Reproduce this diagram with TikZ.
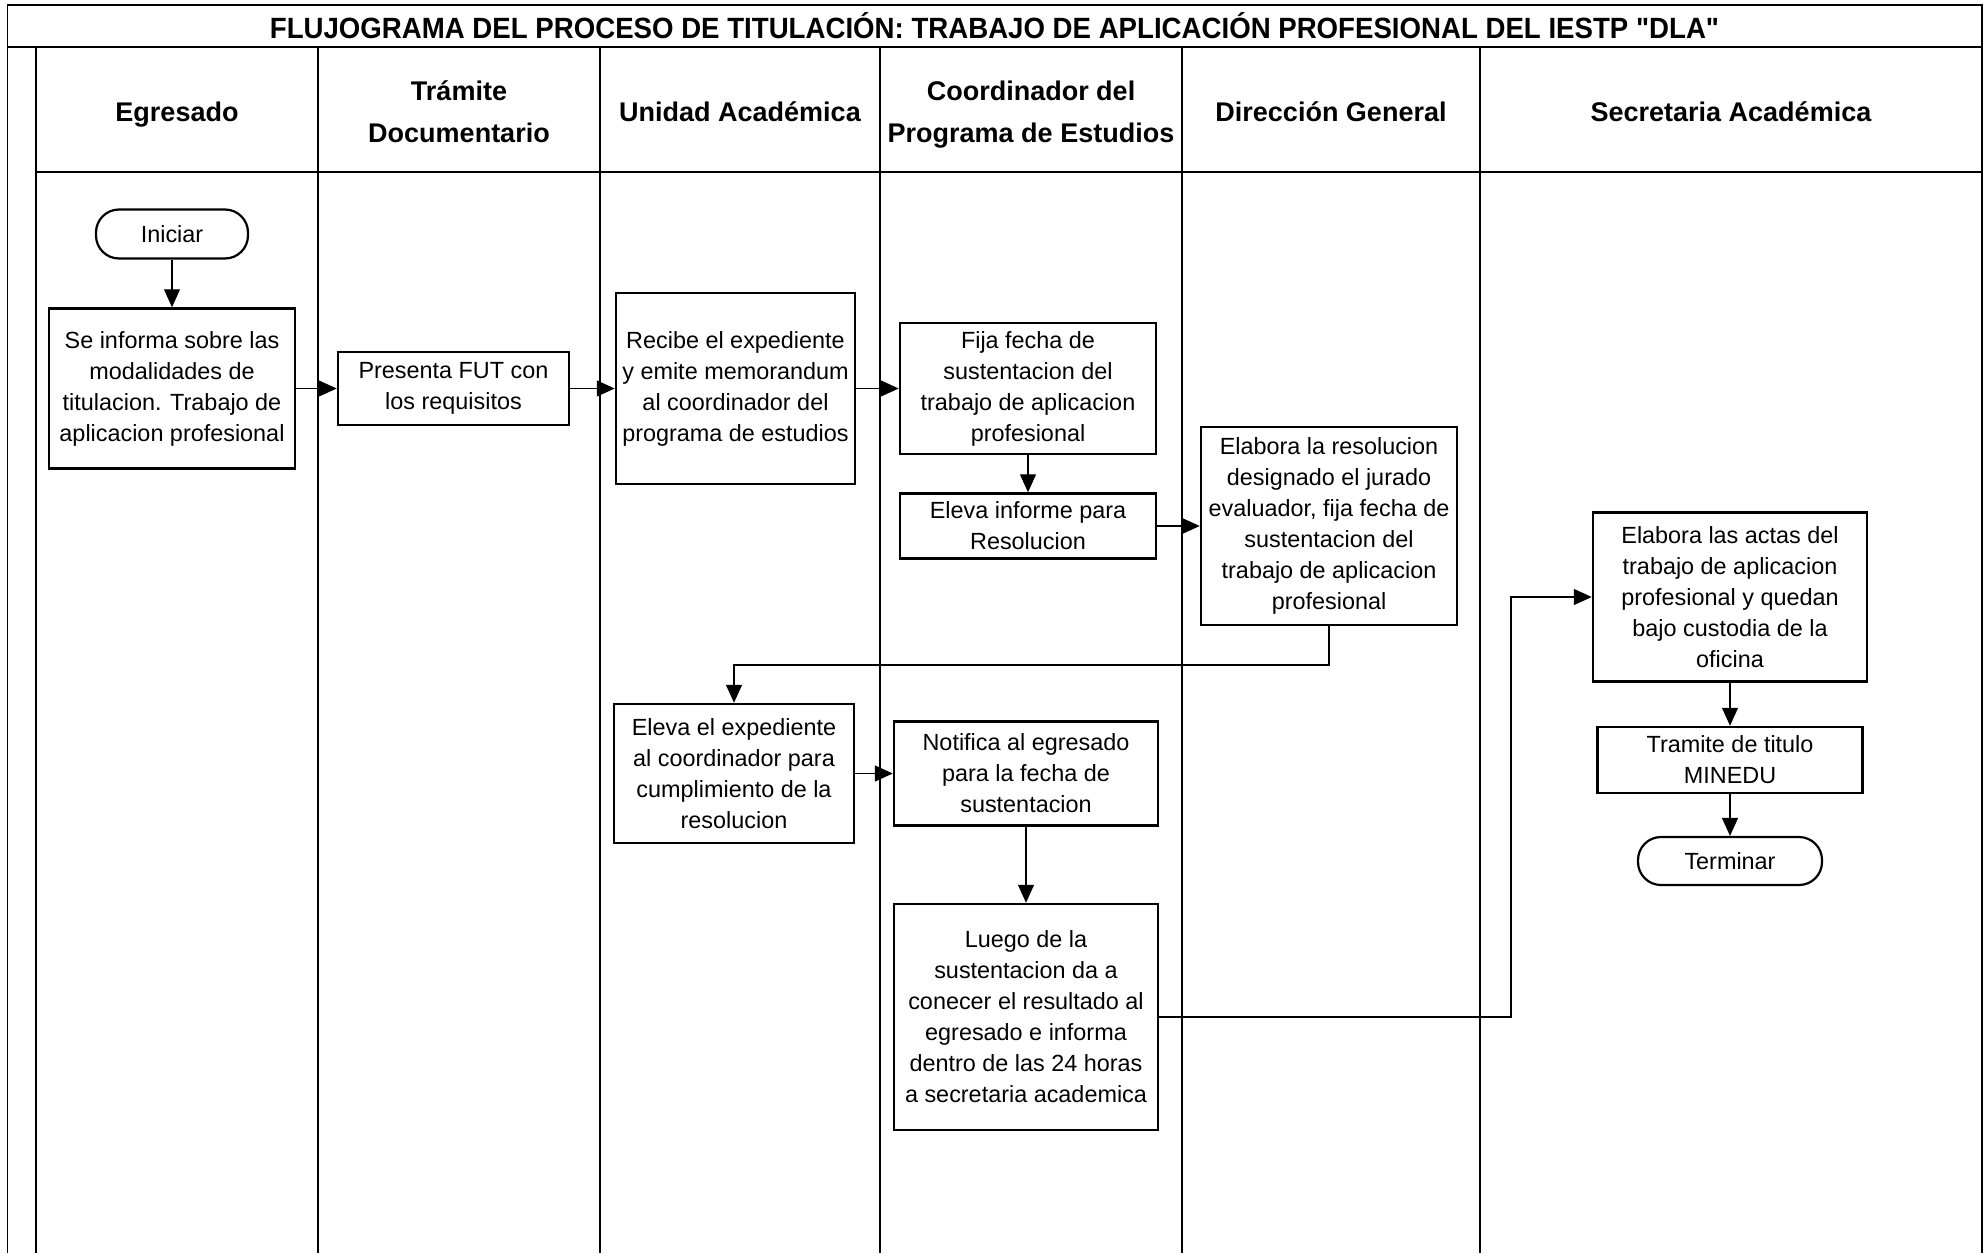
\documentclass[tikz,border=0pt]{standalone}
\usepackage{fontspec}
\setmainfont{Liberation Sans}
\newfontfamily\titlefont[FakeStretch=0.943,Ligatures=TeXOff]{Liberation Sans}
\usetikzlibrary{arrows.meta}
\begin{document}
\begin{tikzpicture}[x=1pt,y=-1pt,
  lane/.style={line width=1.8pt},
  box/.style={draw, line width=2.5pt, align=center, inner sep=0pt, font=\fontsize{23.4}{31}\selectfont},
  term/.style={draw, line width=2.2pt, rounded corners=23pt, align=center, inner sep=0pt, font=\fontsize{23.4}{31}\selectfont},
  hdr/.style={align=center, anchor=base, font=\bfseries\fontsize{27}{42}\selectfont},
  arr/.style={line width=1.3pt, -{Triangle[length=18pt,width=16pt]}}
]
\useasboundingbox (0,0) rectangle (1986,1253);
% frame and lanes
\draw[lane] (7.5,1253) -- (7.5,5) -- (1982,5) -- (1982,1253);
\draw[lane] (7.5,47) -- (1982,47);
\foreach \x in {36,318,600,880,1182,1480} \draw[lane] (\x,47) -- (\x,1253);
\draw[line width=2.2pt] (36,172) -- (1982,172);
% title
\node[anchor=base, font=\titlefont\bfseries\fontsize{29.3}{33}\selectfont] (title) at (994.5,38.5) {FLUJOGRAMA DEL PROCESO DE TITULACIÓN: TRABAJO DE APLICACIÓN PROFESIONAL DEL IESTP "DLA"};
% headers (base = baseline of last line)
\node[hdr] (h1) at (177,121.7) {Egresado};
\node[hdr] (h2) at (459,142.7) {Trámite\\Documentario};
\node[hdr] (h3) at (740,121.7) {Unidad Académica};
\node[hdr] (h4) at (1031,142.7) {Coordinador del\\Programa de Estudios};
\node[hdr] (h5) at (1331,121.7) {Dirección General};
\node[hdr] (h6) at (1731,121.7) {Secretaria Académica};
% nodes
\node[term, minimum width=152pt, minimum height=49pt] (ini) at (172,234) {Iniciar};
\node[box, minimum width=246pt, minimum height=160pt] (b2) at (172,388.5) {Se informa sobre las\\modalidades de\\titulacion. Trabajo de\\aplicacion profesional};
\node[box, minimum width=231pt, minimum height=73pt] (b3) at (453.5,388.5) {Presenta FUT con\\los requisitos};
\node[box, minimum width=239pt, minimum height=191pt] (b4) at (735.5,388.5) {Recibe el expediente\\y emite memorandum\\al coordinador del\\programa de estudios};
\node[box, minimum width=256pt, minimum height=131pt] (b5) at (1028,388.5) {Fija fecha de\\sustentacion del\\trabajo de aplicacion\\profesional};
\node[box, minimum width=256pt, minimum height=65pt] (b6) at (1028,526) {Eleva informe para\\Resolucion};
\node[box, minimum width=256pt, minimum height=198pt] (b7) at (1329,526) {Elabora la resolucion\\designado el jurado\\evaluador, fija fecha de\\sustentacion del\\trabajo de aplicacion\\profesional};
\node[box, minimum width=240pt, minimum height=139pt] (b8) at (734,773.5) {Eleva el expediente\\al coordinador para\\cumplimiento de la\\resolucion};
\node[box, minimum width=264pt, minimum height=104pt] (b9) at (1026,773.5) {Notifica al egresado\\para la fecha de\\sustentacion};
\node[box, minimum width=264pt, minimum height=226pt] (b10) at (1026,1017) {Luego de la\\sustentacion da a\\conecer el resultado al\\egresado e informa\\dentro de las 24 horas\\a secretaria academica};
\node[box, minimum width=274pt, minimum height=169pt] (b11) at (1730,597) {Elabora las actas del\\trabajo de aplicacion\\profesional y quedan\\bajo custodia de la\\oficina};
\node[box, minimum width=265pt, minimum height=66pt] (b12) at (1730,760) {Tramite de titulo\\MINEDU};
\node[term, minimum width=184pt, minimum height=48pt] (fin) at (1730,861) {Terminar};
% connectors
\coordinate (e1) at (0,665);
\coordinate (e2) at (1511,0);
\draw[arr] (ini) -- (b2);
\draw[arr] (b2) -- (b3);
\draw[arr] (b3) -- (b4);
\draw[arr] (b4) -- (b5);
\draw[arr] (b5) -- (b6);
\draw[arr] (b6) -- (b7);
\draw[arr] (b7.south) -- (b7.south |- e1) -| (b8.north);
\draw[arr] (b8) -- (b9);
\draw[arr] (b9) -- (b10);
\draw[arr] (b10.east) -- (b10.east -| e2) |- (b11.west);
\draw[arr] (b11) -- (b12);
\draw[arr] (b12) -- (fin);
\end{tikzpicture}
\end{document}
